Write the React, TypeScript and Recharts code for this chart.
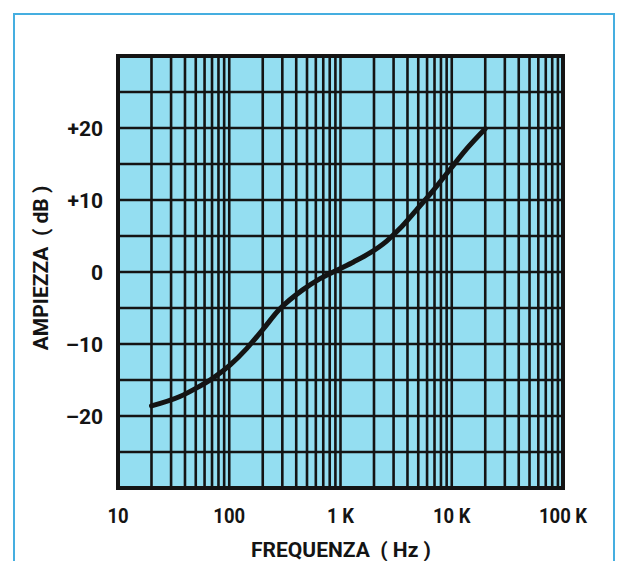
import React from 'react';
import { LineChart, Line, XAxis, YAxis, CartesianGrid, ReferenceArea, Label } from 'recharts';

const FREQ = [20, 36, 51, 72, 102, 144, 200, 280, 460, 650, 925, 1310, 1840, 2600, 3400, 4800, 6800, 9600, 13600, 20000];
const GAIN = [-18.6, -17.3, -16.1, -14.7, -12.9, -10.6, -8.0, -5.25, -2.45, -0.95, 0.25, 1.4, 2.65, 4.3, 6.0, 8.6, 11.3, 14.2, 17.1, 19.9];

const X_GRID = [
  10, 20, 30, 40, 50, 60, 70, 80, 90,
  100, 200, 300, 400, 500, 600, 700, 800, 900,
  1000, 2000, 3000, 4000, 5000, 6000, 7000, 8000, 9000,
  10000, 20000, 30000, 40000, 50000, 60000, 70000, 80000, 90000,
  100000,
];
const X_LABELS: Record<number, string> = { 10: '10', 100: '100', 1000: '1 K', 10000: '10 K', 100000: '100 K' };
const Y_GRID = [-30, -25, -20, -15, -10, -5, 0, 5, 10, 15, 20, 25, 30];
const Y_LABELS: Record<number, string> = { 20: '+20', 10: '+10', 0: '0', [-10]: '\u201310', [-20]: '\u201320' };

const X_TITLE = 'FREQUENZA\u00a0 ( Hz )';
const Y_TITLE = 'AMPIEZZA\u00a0 ( dB )';

const data = FREQ.map((f, i) => ({ f, g: GAIN[i] }));

const FONT = 'Roboto, "Liberation Sans", sans-serif';
const INK = '#141414';

const XTick = (props: any) => {
  const { x, y, payload } = props;
  const t = X_LABELS[payload.value];
  if (!t) return null;
  return (
    <text
      transform={`translate(${x},${y + 35}) scale(0.88,1)`}
      x={0}
      y={0}
      textAnchor="middle"
      fontFamily={FONT}
      fontWeight="bold"
      fontSize={21}
      fill={INK}
    >
      {t}
    </text>
  );
};

const YTick = (props: any) => {
  const { x, y, payload } = props;
  const t = Y_LABELS[payload.value];
  if (t === undefined) return null;
  return (
    <text x={x - 15} y={y + 7.5} textAnchor="end" fontFamily={FONT} fontWeight="bold" fontSize={21} fill={INK}>
      {t}
    </text>
  );
};

export default function App() {
  return (
    <div style={{ position: 'fixed', left: 0, top: 0, width: 619, height: 561, background: '#fff', overflow: 'hidden' }}>
      <div style={{ position: 'absolute', left: 13, top: 13, width: 598, height: 600, border: '2px solid #45aee0' }} />
      <div style={{ position: 'absolute', left: 0, top: 0 }}>
        <LineChart width={619} height={561} data={data} margin={{ top: 56, right: 56, bottom: 43, left: 58 }}>
          <CartesianGrid stroke={INK} strokeWidth={2.6} fill="#94def1" fillOpacity={1} />
          <XAxis
            dataKey="f"
            type="number"
            scale="log"
            domain={[10, 100000]}
            ticks={X_GRID}
            interval={0}
            allowDataOverflow
            axisLine={false}
            tickLine={false}
            tickSize={0}
            tickMargin={0}
            height={30}
            tick={<XTick />}
          >
            <Label
              content={() => (
                <text x={341} y={557} textAnchor="middle" fontFamily={FONT} fontWeight="bold" fontSize={21} fill={INK}>
                  {X_TITLE}
                </text>
              )}
            />
          </XAxis>
          <YAxis
            type="number"
            domain={[-30, 30]}
            ticks={Y_GRID}
            interval={0}
            allowDataOverflow
            axisLine={false}
            tickLine={false}
            tickSize={0}
            tickMargin={0}
            width={60}
            tick={<YTick />}
          >
            <Label
              content={() => (
                <text
                  x={48}
                  y={268}
                  transform="rotate(-90 48 268)"
                  textAnchor="middle"
                  fontFamily={FONT}
                  fontWeight="bold"
                  fontSize={21}
                  fill={INK}
                >
                  {Y_TITLE}
                </text>
              )}
            />
          </YAxis>
          <ReferenceArea x1={10} x2={100000} y1={-30} y2={30} fill="none" stroke={INK} strokeWidth={4} ifOverflow="visible" />
          <Line
            dataKey="g"
            type="monotone"
            stroke={INK}
            strokeWidth={5}
            dot={false}
            isAnimationActive={false}
            strokeLinecap="round"
          />
        </LineChart>
      </div>
    </div>
  );
}
